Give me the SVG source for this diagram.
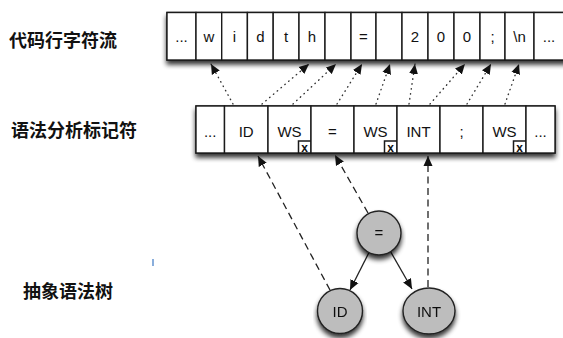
<svg xmlns="http://www.w3.org/2000/svg" width="563" height="338" viewBox="0 0 563 338">
<style>
.lbl{font-family:"Noto Sans CJK SC","Noto Sans",sans-serif;font-weight:bold;font-size:18px;fill:#111}
.cell{fill:#fff;stroke:#1a1a1a;stroke-width:1.4}
.t{font-family:"Liberation Sans",Arial,sans-serif;font-size:15px;fill:#111;text-anchor:middle}
.m{font-family:"Liberation Sans",Arial,sans-serif;font-size:15px;fill:#111;text-anchor:middle}
.xb{fill:#fff;stroke:#1a1a1a;stroke-width:1.5}
.xt{font-family:"Liberation Sans",Arial,sans-serif;font-size:12px;font-weight:bold;fill:#111;text-anchor:middle}
.dot{fill:none;stroke:#333;stroke-width:1.4;stroke-dasharray:0.5 4.5;stroke-linecap:round}
.dash{fill:none;stroke:#222;stroke-width:1.3;stroke-dasharray:7 4.5}
.solid{fill:none;stroke:#222;stroke-width:1.3}
.node{fill:#bdbdbd;stroke:#222;stroke-width:1.4}
</style>
<defs>
<filter id="sh" x="-10%" y="-30%" width="120%" height="170%">
<feGaussianBlur in="SourceAlpha" stdDeviation="2.5"/>
<feOffset dx="0" dy="4" result="b"/>
<feComponentTransfer><feFuncA type="linear" slope="0.8"/></feComponentTransfer>
<feMerge><feMergeNode/><feMergeNode in="SourceGraphic"/></feMerge>
</filter>
<marker id="ah" viewBox="0 0 10 10" refX="10" refY="5" markerWidth="10" markerHeight="10" markerUnits="userSpaceOnUse" orient="auto">
<path d="M0,0.5 L10,5 L0,9.5 z" fill="#111"/>
</marker>
</defs>

<text class="lbl" x="9" y="47">代码行字符流</text>
<text class="lbl" x="11" y="137">语法分析标记符</text>
<text class="lbl" x="23" y="298">抽象语法树</text>
<line x1="153" y1="259" x2="153" y2="266" stroke="#3b78c4" stroke-width="1.2"/>

<g id="char-stream" filter="url(#sh)">
<rect class="cell" x="167" y="12.5" width="410" height="47.5"/>
</g>
<g id="char-cells">
<g id="c0"><rect class="cell" x="167" y="12.5" width="29" height="47.5"/><text class="t" x="181.5" y="42">...</text></g>
<g id="c1"><rect class="cell" x="196" y="12.5" width="25.7" height="47.5"/><text class="t" x="208.8" y="42">w</text></g>
<g id="c2"><rect class="cell" x="221.7" y="12.5" width="25.7" height="47.5"/><text class="t" x="234.5" y="42">i</text></g>
<g id="c3"><rect class="cell" x="247.4" y="12.5" width="25.8" height="47.5"/><text class="t" x="260.3" y="42">d</text></g>
<g id="c4"><rect class="cell" x="273.2" y="12.5" width="25.8" height="47.5"/><text class="t" x="286.1" y="42">t</text></g>
<g id="c5"><rect class="cell" x="299" y="12.5" width="26" height="47.5"/><text class="t" x="312" y="42">h</text></g>
<g id="c6"><rect class="cell" x="325" y="12.5" width="26" height="47.5"/></g>
<g id="c7"><rect class="cell" x="351" y="12.5" width="25" height="47.5"/><text class="t" x="363.5" y="42">=</text></g>
<g id="c8"><rect class="cell" x="376" y="12.5" width="26" height="47.5"/></g>
<g id="c9"><rect class="cell" x="402" y="12.5" width="26" height="47.5"/><text class="t" x="415" y="42">2</text></g>
<g id="c10"><rect class="cell" x="428" y="12.5" width="26" height="47.5"/><text class="t" x="441" y="42">0</text></g>
<g id="c11"><rect class="cell" x="454" y="12.5" width="26" height="47.5"/><text class="t" x="467" y="42">0</text></g>
<g id="c12"><rect class="cell" x="480" y="12.5" width="25" height="47.5"/><text class="t" x="492.5" y="42">;</text></g>
<g id="c13"><rect class="cell" x="505" y="12.5" width="29" height="47.5"/><text class="t" x="519.5" y="42">\n</text></g>
<g id="c14"><rect class="cell" x="534" y="12.5" width="43" height="47.5"/><text class="t" x="549" y="42">...</text></g>
</g>

<g id="token-stream" filter="url(#sh)">
<rect class="cell" x="196" y="106" width="359" height="47"/>
</g>
<g id="token-cells">
<g id="t0"><rect class="cell" x="196" y="106" width="28.5" height="47"/><text class="m" x="210.2" y="136.5">...</text></g>
<g id="t1"><rect class="cell" x="224.5" y="106" width="43.5" height="47"/><text class="m" x="246.2" y="136.5">ID</text></g>
<g id="t2"><rect class="cell" x="268" y="106" width="43" height="47"/><text class="m" x="289.5" y="136.5">WS</text><rect class="xb" x="298.5" y="141" width="12.5" height="12"/><text class="xt" x="304.7" y="151.5">x</text></g>
<g id="t3"><rect class="cell" x="311" y="106" width="43" height="47"/><text class="m" x="332.5" y="136.5">=</text></g>
<g id="t4"><rect class="cell" x="354" y="106" width="43" height="47"/><text class="m" x="375.5" y="136.5">WS</text><rect class="xb" x="384.5" y="141" width="12.5" height="12"/><text class="xt" x="390.7" y="151.5">x</text></g>
<g id="t5"><rect class="cell" x="397" y="106" width="43" height="47"/><text class="m" x="418.5" y="136.5">INT</text></g>
<g id="t6"><rect class="cell" x="440" y="106" width="43" height="47"/><text class="m" x="461.5" y="136.5">;</text></g>
<g id="t7"><rect class="cell" x="483" y="106" width="43" height="47"/><text class="m" x="504.5" y="136.5">WS</text><rect class="xb" x="513.5" y="141" width="12.5" height="12"/><text class="xt" x="519.7" y="151.5">x</text></g>
<g id="t8"><rect class="cell" x="526" y="106" width="29" height="47"/><text class="m" x="540.5" y="136.5">...</text></g>
</g>

<g id="connectors">
<line class="dot" x1="233" y1="104" x2="211" y2="64" marker-end="url(#ah)"/>
<line class="dot" x1="262" y1="104" x2="309" y2="64" marker-end="url(#ah)"/>
<line class="dot" x1="293" y1="104" x2="336" y2="64" marker-end="url(#ah)"/>
<line class="dot" x1="337" y1="104" x2="362" y2="64" marker-end="url(#ah)"/>
<line class="dot" x1="376" y1="104" x2="390" y2="64" marker-end="url(#ah)"/>
<line class="dot" x1="409" y1="104" x2="415" y2="64" marker-end="url(#ah)"/>
<line class="dot" x1="430" y1="104" x2="465" y2="64" marker-end="url(#ah)"/>
<line class="dot" x1="467" y1="104" x2="491" y2="64" marker-end="url(#ah)"/>
<line class="dot" x1="505" y1="104" x2="519" y2="64" marker-end="url(#ah)"/>
<line class="dash" x1="330" y1="290" x2="258" y2="156" marker-end="url(#ah)"/>
<line class="dash" x1="368" y1="213" x2="335" y2="155" marker-end="url(#ah)"/>
<line class="dash" x1="428" y1="287" x2="428" y2="156" marker-end="url(#ah)"/>
<line class="solid" x1="369" y1="252.5" x2="350" y2="290" marker-end="url(#ah)"/>
<line class="solid" x1="390.5" y1="251.5" x2="412" y2="289" marker-end="url(#ah)"/>
</g>

<g id="node-eq" filter="url(#sh)"><circle class="node" cx="379" cy="233" r="22"/><text class="t" x="379" y="238">=</text></g>
<g id="node-id" filter="url(#sh)"><circle class="node" cx="340" cy="311" r="22.5"/><text class="m" x="340" y="316.5">ID</text></g>
<g id="node-int" filter="url(#sh)"><ellipse class="node" cx="429" cy="311" rx="26" ry="23"/><text class="m" x="429" y="316.5">INT</text></g>
</svg>
